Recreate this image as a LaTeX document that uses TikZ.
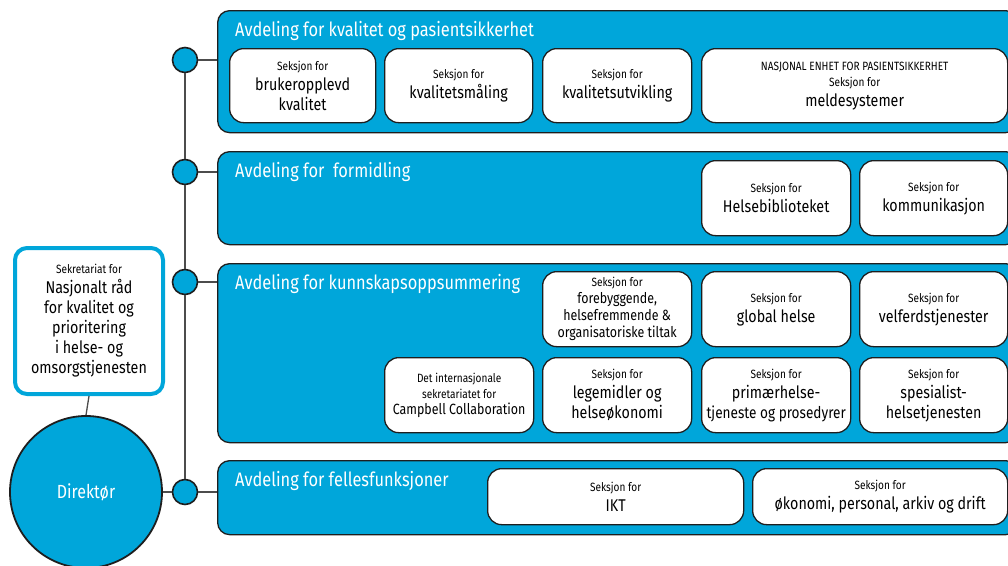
\documentclass[tikz,border=0pt]{standalone}
\usepackage{fontspec}
\setmainfont{Fira Sans}[FakeStretch=0.84]
\usetikzlibrary{positioning}
\definecolor{avdblue}{RGB}{0,166,218}
\definecolor{edgegray}{RGB}{30,30,30}
\newcommand{\seksfnt}{\fontsize{12}{14}\selectfont}
\newcommand{\midfnt}{\fontsize{14.8}{17}\selectfont}
\newcommand{\mainfnt}{\fontsize{17}{20}\selectfont}

\begin{document}
\begin{tikzpicture}
  [
  x=1pt,y=-1pt,
  avdbox/.style={rectangle,rounded corners=12pt,draw=edgegray,fill=avdblue,line width=1.3pt,anchor=north west,inner sep=0pt,minimum width=800pt},
  seksbox/.style={rectangle,rounded corners=14pt,draw=edgegray,fill=white,line width=1.3pt,anchor=north west,align=center,inner sep=2pt,font=\mainfnt},
  avdtitle/.style={anchor=west,text=white,font=\fontsize{19.5}{22}\selectfont,inner sep=0pt},
  knot/.style={circle,draw=edgegray,fill=avdblue,line width=1.6pt,minimum size=25pt,inner sep=0pt},
  link/.style={draw=black!70,line width=1.3pt}
  ]
  \useasboundingbox (0,0) rectangle (1008,565);

  % avdelinger
  \node (avd1) [avdbox] at (217, 10) [minimum height=122pt] {};
  \node (avd2) [avdbox] at (217,151) [minimum height=93pt]  {};
  \node (avd3) [avdbox] at (217,263) [minimum height=179pt] {};
  \node (avd4) [avdbox] at (217,460) [minimum height=74pt]  {};
  \node (t1) [avdtitle] at (235, 31) {Avdeling for kvalitet og pasientsikkerhet};
  \node (t2) [avdtitle] at (235,172) {Avdeling for \ formidling};
  \node (t3) [avdtitle] at (235,284) {Avdeling for kunnskapsoppsummering};
  \node (t4) [avdtitle] at (235,481) {Avdeling for fellesfunksjoner};

  % seksjoner
  \node (s11) [seksbox] at (229,48) [minimum width=146pt,minimum height=74pt] {
    \seksfnt Seksjon for\\ brukeropplevd\\ kvalitet
  };
  \node (s12) [seksbox] at (384,48) [minimum width=148pt,minimum height=74pt] {
    \seksfnt Seksjon for\\ kvalitetsmåling
  };
  \node (s13) [seksbox] at (542,48) [minimum width=149pt,minimum height=74pt] {
    \seksfnt Seksjon for\\ kvalitetsutvikling
  };
  \node (s14) [seksbox] at (701,48) [minimum width=306pt,minimum height=74pt] {
    \seksfnt NASJONAL ENHET FOR PASIENTSIKKERHET\\[-4pt] \seksfnt Seksjon for\\ meldesystemer
  };
  \node (s21) [seksbox] at (701,160) [minimum width=149pt,minimum height=75pt] {
    \seksfnt Seksjon for\\ Helsebiblioteket
  };
  \node (s22) [seksbox] at (859,160) [minimum width=148pt,minimum height=75pt] {
    \seksfnt Seksjon for\\ kommunikasjon
  };
  \node (s31) [seksbox] at (542,271) [minimum width=149pt,minimum height=75pt,font=\midfnt] {
    \seksfnt Seksjon for\\ forebyggende,\\ helsefremmende \&\\ organisatoriske tiltak
  };
  \node (s32) [seksbox] at (701,271) [minimum width=149pt,minimum height=75pt] {
    \seksfnt Seksjon for\\ global helse
  };
  \node (s33) [seksbox] at (859,271) [minimum width=148pt,minimum height=75pt] {
    \seksfnt Seksjon for\\ velferdstjenester
  };
  \node (s40) [seksbox] at (384,357) [minimum width=149pt,minimum height=75pt,font=\fontsize{14.8}{16}\selectfont] {
    \seksfnt Det internasjonale\\ \seksfnt sekretariatet for\\ Campbell Collaboration
  };
  \node (s41) [seksbox] at (542,357) [minimum width=149pt,minimum height=75pt] {
    \seksfnt Seksjon for\\ legemidler og\\ helseøkonomi
  };
  \node (s42) [seksbox] at (701,357) [minimum width=149pt,minimum height=75pt] {
    \seksfnt Seksjon for\\ primærhelse-\\ \fontsize{16.2}{20}\selectfont tjeneste og prosedyrer
  };
  \node (s43) [seksbox] at (859,357) [minimum width=148pt,minimum height=75pt] {
    \seksfnt Seksjon for\\ spesialist-\\ helsetjenesten
  };
  \node (s51) [seksbox] at (487,468) [minimum width=256pt,minimum height=56pt] {
    \seksfnt Seksjon for\\ IKT
  };
  \node (s52) [seksbox] at (752,468) [minimum width=255pt,minimum height=56pt] {
    \seksfnt Seksjon for\\ økonomi, personal, arkiv og drift
  };

  % ledelse
  \node (sek) [rectangle,rounded corners=12pt,draw=avdblue,line width=4pt,fill=white,
    anchor=north west,align=center,minimum width=148pt,minimum height=146pt,font=\mainfnt] at (13,246) {
    \seksfnt Sekretariat for\\ Nasjonalt råd\\ for kvalitet og\\
    prioritering\\ i helse- og\\ omsorgstjenesten
  };
  \node (dir) [circle,draw=edgegray,fill=avdblue,line width=1.8pt,minimum size=152pt,
    text=white,font=\fontsize{19}{22}\selectfont] at (86,492) {Direktør};

  % knutepunkter
  \node (c1) [knot] at (185, 60) {};
  \node (c2) [knot] at (185,172) {};
  \node (c3) [knot] at (185,282) {};
  \node (c4) [knot] at (185,492) {};

  \draw [link] (c1.south) -- (c2.north);
  \draw [link] (c2.south) -- (c3.north);
  \draw [link] (c3.south) -- (c4.north);
  \draw [link] (c1.east) -- (c1.east -| avd1.west);
  \draw [link] (c2.east) -- (c2.east -| avd2.west);
  \draw [link] (c3.east) -- (c3.east -| avd3.west);
  \draw [link] (c4.east) -- (c4.east -| avd4.west);
  \draw [link] (dir.east) -- (c4.west);
  \draw [link] (sek.south) -- (dir.north);
\end{tikzpicture}
\end{document}
